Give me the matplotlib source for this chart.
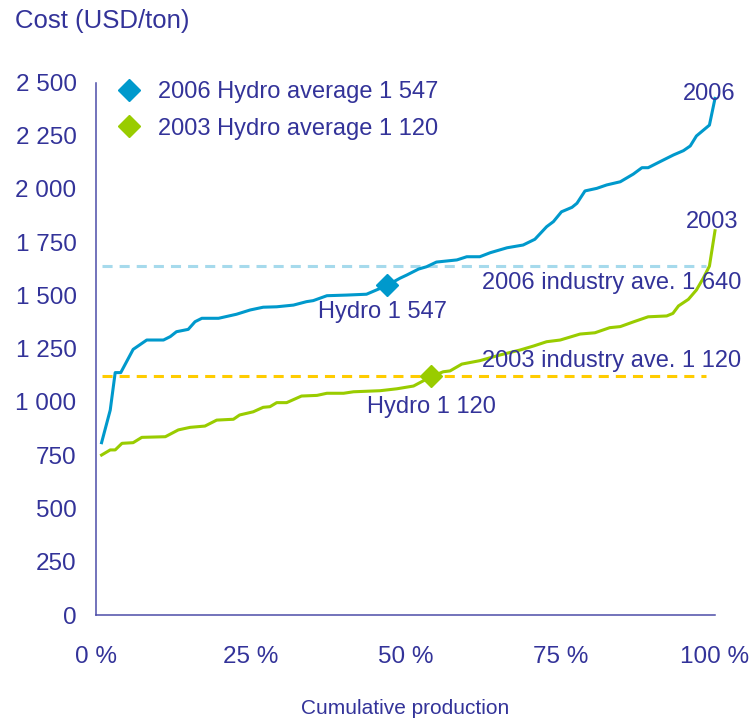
import matplotlib
matplotlib.use('Agg')
from matplotlib import pyplot as plt
from matplotlib.lines import Line2D
from matplotlib.ticker import FuncFormatter

# cumulative production (%) and cost (USD/ton)
share_2006 = [0.9, 2.3, 3.1, 4.0, 6.0, 8.2, 10.9, 12.0, 13.0, 14.9, 16.0, 17.1,
              19.8, 22.7, 24.9, 27.0, 29.2, 31.9, 34.0, 35.1, 37.3, 40.5, 43.7,
              47.0, 49.1, 50.2, 52.1, 53.4, 55.0, 58.3, 59.9, 62.0, 63.7, 66.4,
              69.0, 70.9, 72.8, 73.9, 75.2, 76.9, 77.7, 79.0, 80.9, 82.5, 84.7,
              86.8, 88.2, 89.2, 91.1, 93.3, 94.9, 96.0, 97.0, 99.1, 100.0]
cost_2006 = [809, 962, 1138, 1138, 1247, 1291, 1291, 1307, 1330, 1341, 1377, 1393,
             1393, 1412, 1432, 1445, 1447, 1455, 1471, 1476, 1499, 1502, 1506,
             1547, 1581, 1596, 1624, 1635, 1657, 1667, 1682, 1682, 1701, 1724,
             1737, 1764, 1823, 1847, 1893, 1914, 1933, 1991, 2003, 2019, 2034,
             2070, 2100, 2100, 2128, 2160, 2180, 2202, 2249, 2300, 2425]

share_2003 = [0.9, 2.3, 3.1, 4.2, 6.0, 7.4, 11.2, 13.3, 15.2, 17.6, 19.5, 22.2,
              23.2, 25.4, 27.0, 28.1, 29.2, 30.8, 33.2, 35.7, 37.3, 40.0, 41.6,
              45.9, 48.6, 51.3, 54.2, 56.1, 57.2, 59.1, 62.0, 65.3, 68.5, 70.7,
              72.8, 75.0, 78.2, 80.6, 83.0, 84.7, 86.8, 89.2, 92.2, 93.2, 94.1,
              95.7, 97.0, 98.1, 99.1, 100.0]
cost_2003 = [751, 775, 775, 806, 809, 834, 837, 869, 881, 887, 915, 919,
             939, 954, 975, 978, 997, 997, 1028, 1031, 1041, 1041, 1048,
             1053, 1062, 1075, 1120, 1142, 1146, 1178, 1194, 1221, 1244, 1263,
             1283, 1291, 1319, 1325, 1349, 1354, 1376, 1400, 1404, 1416, 1451,
             1482, 1526, 1581, 1638, 1804]

hydro_share = [47.0, 54.2]          # 2006, 2003
hydro_cost = [1547, 1120]
industry_ave = [1640, 1120]         # 2006, 2003
industry_span = [0.9, 98.5]

yticks = [0, 250, 500, 750, 1000, 1250, 1500, 1750, 2000, 2250, 2500]
xticks = [0, 25, 50, 75, 100]

navy = '#333399'
blue = '#0099cc'
green = '#99cc00'
lightblue = '#a6daec'
yellow = '#ffcc00'

plt.rcParams['font.family'] = ['Liberation Sans', 'DejaVu Sans']


def main():
    fig = plt.figure(figsize=(7.53, 7.21), dpi=100)
    ax = fig.add_axes([96 / 753, 1 - 615 / 721, 619 / 753, 532.5 / 721])

    ax.plot(industry_span, [industry_ave[0]] * 2, color=lightblue, lw=2.2,
            dashes=(3.3, 2.3))
    ax.plot(industry_span, [industry_ave[1]] * 2, color=yellow, lw=2.2,
            dashes=(3.3, 2.3))

    ax.plot(share_2006, cost_2006, color=blue, lw=2.2, clip_on=False)
    ax.plot(share_2003, cost_2003, color=green, lw=2.2, clip_on=False)

    ax.plot(hydro_share[0], hydro_cost[0], 'D', color=blue, ms=11, zorder=5)
    ax.plot(hydro_share[1], hydro_cost[1], 'D', color=green, ms=11, zorder=5)

    # labels
    ax.text(35.9, 1393, 'Hydro 1 547', fontsize=17, color=navy)
    ax.text(43.7, 950, 'Hydro 1 120', fontsize=17, color=navy)
    ax.text(104.2, 1529, '2006 industry ave. 1 640', fontsize=17, color=navy,
            ha='right')
    ax.text(104.2, 1166, '2003 industry ave. 1 120', fontsize=17, color=navy,
            ha='right')
    ax.text(99.0, 2418, '2006', fontsize=17, color=navy, ha='center')
    ax.text(99.5, 1815, '2003', fontsize=17, color=navy, ha='center')

    handles = [Line2D([], [], ls='none', marker='D', color=blue, ms=11.5),
               Line2D([], [], ls='none', marker='D', color=green, ms=11.5)]
    fig.legend(handles, ['2006 Hydro average 1 547', '2003 Hydro average 1 120'],
               loc='upper left', bbox_to_anchor=(117 / 753, 1 - 81 / 721),
               frameon=False, fontsize=17, labelcolor=navy, borderpad=0,
               borderaxespad=0, handlelength=1.0, handletextpad=0.72,
               labelspacing=0.62)

    ax.set_xlim(0, 100)
    ax.set_ylim(0, 2500)
    ax.set_xticks(xticks)
    ax.set_yticks(yticks)
    ax.xaxis.set_major_formatter(FuncFormatter(lambda v, p: '%d %%' % v))
    ax.yaxis.set_major_formatter(
        FuncFormatter(lambda v, p: '{:,}'.format(int(v)).replace(',', ' ')))
    ax.tick_params(axis='both', length=0, labelsize=17.5, labelcolor=navy)
    ax.tick_params(axis='x', pad=22)
    ax.tick_params(axis='y', pad=14)

    for side in ['top', 'right']:
        ax.spines[side].set_visible(False)
    for side in ['left', 'bottom']:
        ax.spines[side].set_color('#4d4da8')
        ax.spines[side].set_linewidth(1.1)

    ax.set_xlabel('Cumulative production', fontsize=15, color=navy, labelpad=23)
    fig.text(15 / 753, 1 - 28 / 721, 'Cost (USD/ton)', fontsize=18.5, color=navy)

    plt.savefig('out.png', dpi=100)


if __name__ == '__main__':
    main()
